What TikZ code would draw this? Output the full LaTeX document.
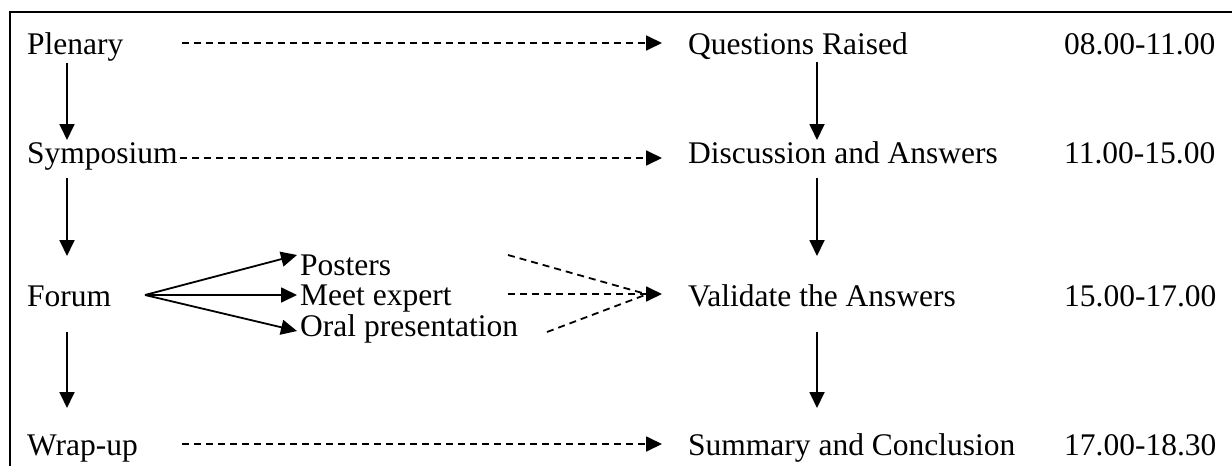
\documentclass[tikz,border=0pt]{standalone}
\usepackage{fontspec}
\setmainfont{Liberation Serif}
\usetikzlibrary{arrows.meta}
\begin{document}
\begin{tikzpicture}[x=1pt,y=-1pt,
  lbl/.style={anchor=base west,inner sep=0pt,font=\fontsize{31.5}{38}\selectfont},
  arr/.style={line width=1.8pt,-{Triangle[length=16pt,width=15pt]}},
  darr/.style={line width=1.8pt,dash pattern=on 7pt off 5pt,-{Triangle[length=16pt,width=15pt]}},
  dline/.style={line width=1.8pt,dash pattern=on 7pt off 5pt},
  frame/.style={line width=2pt}]
\useasboundingbox (0,0) rectangle (1232,466);
\draw[frame] (10,466) -- (10,12) -- (1232,12);
% left column
\node[lbl] (plen) at (27,54) {Plenary};
\node[lbl] (symp) at (27,163) {Symposium};
\node[lbl] (forum) at (27,306) {Forum};
\node[lbl] (wrap) at (27,455) {Wrap-up};
% sub items
\node[lbl] (post) at (300,275) {Posters};
\node[lbl] (meet) at (300,305) {Meet expert};
\node[lbl] (oral) at (300,336) {Oral presentation};
% right column
\node[lbl] (ques) at (688,54) {Questions Raised};
\node[lbl] (disc) at (688,163) {Discussion and Answers};
\node[lbl] (vali) at (688,306) {Validate the Answers};
\node[lbl] (summ) at (688,455) {Summary and Conclusion};
% times
\node[lbl] (t1) at (1064,54) {08.00-11.00};
\node[lbl] (t2) at (1064,163) {11.00-15.00};
\node[lbl] (t3) at (1064,306) {15.00-17.00};
\node[lbl] (t4) at (1064,455) {17.00-18.30};
% coordinates
\coordinate (l1s) at (67,63);  \coordinate (l1e) at (67,140);
\coordinate (l2s) at (67,178); \coordinate (l2e) at (67,256);
\coordinate (l3s) at (67,332); \coordinate (l3e) at (67,408);
\coordinate (r1s) at (817,62);  \coordinate (r1e) at (817,140);
\coordinate (r2s) at (817,178); \coordinate (r2e) at (817,256);
\coordinate (r3s) at (817,332); \coordinate (r3e) at (817,408);
\coordinate (h1s) at (182,43);  \coordinate (h1e) at (662,43);
\coordinate (h2s) at (180,158); \coordinate (h2e) at (662,158);
\coordinate (h4s) at (182,444); \coordinate (h4e) at (662,444);
\coordinate (fsrc) at (145,295);
\coordinate (fp) at (297,255);
\coordinate (fm) at (297,295);
\coordinate (fo) at (297,331);
\coordinate (dps) at (508,255);
\coordinate (dms) at (508,294);
\coordinate (dos) at (547,332);
\coordinate (vtip) at (662,294);
% vertical arrows
\draw[arr] (l1s) -- (l1e);
\draw[arr] (l2s) -- (l2e);
\draw[arr] (l3s) -- (l3e);
\draw[arr] (r1s) -- (r1e);
\draw[arr] (r2s) -- (r2e);
\draw[arr] (r3s) -- (r3e);
% dashed horizontal arrows
\draw[darr] (h1s) -- (h1e);
\draw[darr] (h2s) -- (h2e);
\draw[darr] (h4s) -- (h4e);
% forum fan
\draw[arr] (fsrc) -- (fp);
\draw[arr] (fsrc) -- (fm);
\draw[arr] (fsrc) -- (fo);
% converging dashed
\draw[dline] (dps) -- ([xshift=-9pt,yshift=-2pt]vtip);
\draw[dline] (dos) -- ([xshift=-9pt,yshift=2pt]vtip);
\draw[darr] (dms) -- (vtip);
\end{tikzpicture}
\end{document}
